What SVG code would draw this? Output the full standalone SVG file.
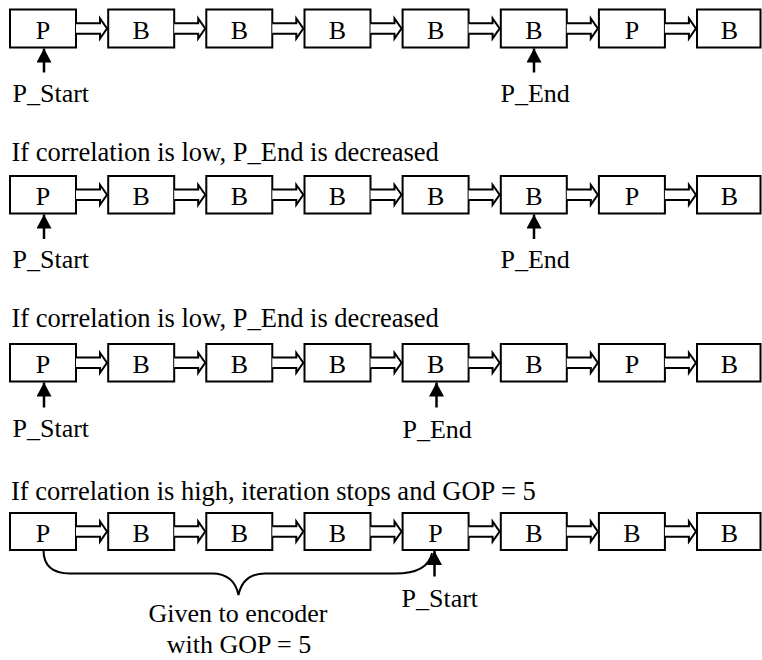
<svg xmlns="http://www.w3.org/2000/svg" xmlns:xlink="http://www.w3.org/1999/xlink" width="762" height="660" viewBox="0 0 762 660">
<style>
.box{fill:#fff;stroke:#000;stroke-width:2}
.t{font-family:"Liberation Serif","Times New Roman",serif;font-size:26px;fill:#000}
.h{font-size:26.5px}
.c{text-anchor:middle}
.ba{fill:#fff;stroke:#000;stroke-width:2;stroke-linejoin:miter}
.up{stroke:#000;stroke-width:2.5;fill:none}
.brace{stroke:#000;stroke-width:2;fill:none}
</style>
<defs>
<path id="ba" d="M0,-5.3 H24 V-10 L31,0 L24,10 V5.3 H0"/>
<marker id="ah" viewBox="0 0 14 15" markerWidth="14" markerHeight="15" refX="14" refY="7.5" orient="auto" markerUnits="userSpaceOnUse"><path d="M0,0 L14,7.5 L0,15 Z" fill="#000"/></marker>
</defs>
<rect width="762" height="660" fill="#fff"/>

<!-- Row 1 -->
<g id="row1" transform="translate(0,9.5)">
<g id="r1n1"><rect class="box" x="10" y="0" width="66" height="38"/><text class="t c" x="43" y="29">P</text></g>
<g id="r1n2"><rect class="box" x="108.2" y="0" width="66" height="38"/><text class="t c" x="141.2" y="29">B</text></g>
<g id="r1n3"><rect class="box" x="206.3" y="0" width="66" height="38"/><text class="t c" x="239.3" y="29">B</text></g>
<g id="r1n4"><rect class="box" x="304.5" y="0" width="66" height="38"/><text class="t c" x="337.5" y="29">B</text></g>
<g id="r1n5"><rect class="box" x="402.6" y="0" width="66" height="38"/><text class="t c" x="435.6" y="29">B</text></g>
<g id="r1n6"><rect class="box" x="500.8" y="0" width="66" height="38"/><text class="t c" x="533.8" y="29">B</text></g>
<g id="r1n7"><rect class="box" x="598.9" y="0" width="66" height="38"/><text class="t c" x="631.9" y="29">P</text></g>
<g id="r1n8"><rect class="box" x="697" y="0" width="63.5" height="38"/><text class="t c" x="729.5" y="29">B</text></g>
</g>
<g id="r1labels">
<text class="t" x="12.5" y="101.5">P_Start</text>
<text class="t" x="500.5" y="101.5">P_End</text>
</g>

<!-- Row 2 -->
<text id="h2" class="t h" x="11.5" y="160.5">If correlation is low, P_End is decreased</text>
<g id="row2" transform="translate(0,176)">
<g id="r2n1"><rect class="box" x="10" y="0" width="66" height="37.5"/><text class="t c" x="43" y="29">P</text></g>
<g id="r2n2"><rect class="box" x="108.2" y="0" width="66" height="37.5"/><text class="t c" x="141.2" y="29">B</text></g>
<g id="r2n3"><rect class="box" x="206.3" y="0" width="66" height="37.5"/><text class="t c" x="239.3" y="29">B</text></g>
<g id="r2n4"><rect class="box" x="304.5" y="0" width="66" height="37.5"/><text class="t c" x="337.5" y="29">B</text></g>
<g id="r2n5"><rect class="box" x="402.6" y="0" width="66" height="37.5"/><text class="t c" x="435.6" y="29">B</text></g>
<g id="r2n6"><rect class="box" x="500.8" y="0" width="66" height="37.5"/><text class="t c" x="533.8" y="29">B</text></g>
<g id="r2n7"><rect class="box" x="598.9" y="0" width="66" height="37.5"/><text class="t c" x="631.9" y="29">P</text></g>
<g id="r2n8"><rect class="box" x="697" y="0" width="63.5" height="37.5"/><text class="t c" x="729.5" y="29">B</text></g>
</g>
<g id="r2labels">
<text class="t" x="12.5" y="268">P_Start</text>
<text class="t" x="500.5" y="268">P_End</text>
</g>

<!-- Row 3 -->
<text id="h3" class="t h" x="11.5" y="327">If correlation is low, P_End is decreased</text>
<g id="row3" transform="translate(0,344)">
<g id="r3n1"><rect class="box" x="10" y="0" width="66" height="37.5"/><text class="t c" x="43" y="29">P</text></g>
<g id="r3n2"><rect class="box" x="108.2" y="0" width="66" height="37.5"/><text class="t c" x="141.2" y="29">B</text></g>
<g id="r3n3"><rect class="box" x="206.3" y="0" width="66" height="37.5"/><text class="t c" x="239.3" y="29">B</text></g>
<g id="r3n4"><rect class="box" x="304.5" y="0" width="66" height="37.5"/><text class="t c" x="337.5" y="29">B</text></g>
<g id="r3n5"><rect class="box" x="402.6" y="0" width="66" height="37.5"/><text class="t c" x="435.6" y="29">B</text></g>
<g id="r3n6"><rect class="box" x="500.8" y="0" width="66" height="37.5"/><text class="t c" x="533.8" y="29">B</text></g>
<g id="r3n7"><rect class="box" x="598.9" y="0" width="66" height="37.5"/><text class="t c" x="631.9" y="29">P</text></g>
<g id="r3n8"><rect class="box" x="697" y="0" width="63.5" height="37.5"/><text class="t c" x="729.5" y="29">B</text></g>
</g>
<g id="r3labels">
<text class="t" x="12.5" y="437">P_Start</text>
<text class="t" x="402.5" y="437.5">P_End</text>
</g>

<!-- Row 4 -->
<text id="h4" class="t h" x="11" y="500">If correlation is high, iteration stops and GOP = 5</text>
<g id="row4" transform="translate(0,513)">
<g id="r4n1"><rect class="box" x="10" y="0" width="66" height="37"/><text class="t c" x="43" y="29">P</text></g>
<g id="r4n2"><rect class="box" x="108.2" y="0" width="66" height="37"/><text class="t c" x="141.2" y="29">B</text></g>
<g id="r4n3"><rect class="box" x="206.3" y="0" width="66" height="37"/><text class="t c" x="239.3" y="29">B</text></g>
<g id="r4n4"><rect class="box" x="304.5" y="0" width="66" height="37"/><text class="t c" x="337.5" y="29">B</text></g>
<g id="r4n5"><rect class="box" x="402.6" y="0" width="66" height="37"/><text class="t c" x="435.6" y="29">P</text></g>
<g id="r4n6"><rect class="box" x="500.8" y="0" width="66" height="37"/><text class="t c" x="533.8" y="29">B</text></g>
<g id="r4n7"><rect class="box" x="598.9" y="0" width="66" height="37"/><text class="t c" x="631.9" y="29">B</text></g>
<g id="r4n8"><rect class="box" x="697" y="0" width="63.5" height="37"/><text class="t c" x="729.5" y="29">B</text></g>
</g>
<g id="r4labels">
<text class="t" x="401.5" y="606.5">P_Start</text>
<text class="t c" x="238" y="621.5">Given to encoder</text>
<text class="t c" x="239" y="652.5">with GOP = 5</text>
</g>

<!-- Connectors -->
<g id="connectors">
<g transform="translate(0,28.5)">
<use href="#ba" class="ba" x="76" y="0"/><use href="#ba" class="ba" x="174.2" y="0"/><use href="#ba" class="ba" x="272.3" y="0"/><use href="#ba" class="ba" x="370.5" y="0"/><use href="#ba" class="ba" x="468.6" y="0"/><use href="#ba" class="ba" x="566.8" y="0"/><use href="#ba" class="ba" x="664.9" y="0"/>
</g>
<g transform="translate(0,194.8)">
<use href="#ba" class="ba" x="76" y="0"/><use href="#ba" class="ba" x="174.2" y="0"/><use href="#ba" class="ba" x="272.3" y="0"/><use href="#ba" class="ba" x="370.5" y="0"/><use href="#ba" class="ba" x="468.6" y="0"/><use href="#ba" class="ba" x="566.8" y="0"/><use href="#ba" class="ba" x="664.9" y="0"/>
</g>
<g transform="translate(0,362.8)">
<use href="#ba" class="ba" x="76" y="0"/><use href="#ba" class="ba" x="174.2" y="0"/><use href="#ba" class="ba" x="272.3" y="0"/><use href="#ba" class="ba" x="370.5" y="0"/><use href="#ba" class="ba" x="468.6" y="0"/><use href="#ba" class="ba" x="566.8" y="0"/><use href="#ba" class="ba" x="664.9" y="0"/>
</g>
<g transform="translate(0,531.5)">
<use href="#ba" class="ba" x="76" y="0"/><use href="#ba" class="ba" x="174.2" y="0"/><use href="#ba" class="ba" x="272.3" y="0"/><use href="#ba" class="ba" x="370.5" y="0"/><use href="#ba" class="ba" x="468.6" y="0"/><use href="#ba" class="ba" x="566.8" y="0"/><use href="#ba" class="ba" x="664.9" y="0"/>
</g>
<line class="up" x1="44" y1="72.5" x2="44" y2="48.5" marker-end="url(#ah)"/>
<line class="up" x1="534" y1="72.5" x2="534" y2="48.5" marker-end="url(#ah)"/>
<line class="up" x1="44" y1="239" x2="44" y2="214.5" marker-end="url(#ah)"/>
<line class="up" x1="534" y1="239" x2="534" y2="214.5" marker-end="url(#ah)"/>
<line class="up" x1="44" y1="407.5" x2="44" y2="382.5" marker-end="url(#ah)"/>
<line class="up" x1="436.5" y1="407.5" x2="436.5" y2="382.5" marker-end="url(#ah)"/>
<line class="up" x1="434.5" y1="576.5" x2="434.5" y2="551" marker-end="url(#ah)"/>
<path class="brace" d="M43.5,550 Q43.5,573.5 70,573.5 H212 Q234,573.5 238.5,595 Q243,573.5 265,573.5 H395 Q428,573.5 432,553"/>
</g>
</svg>
